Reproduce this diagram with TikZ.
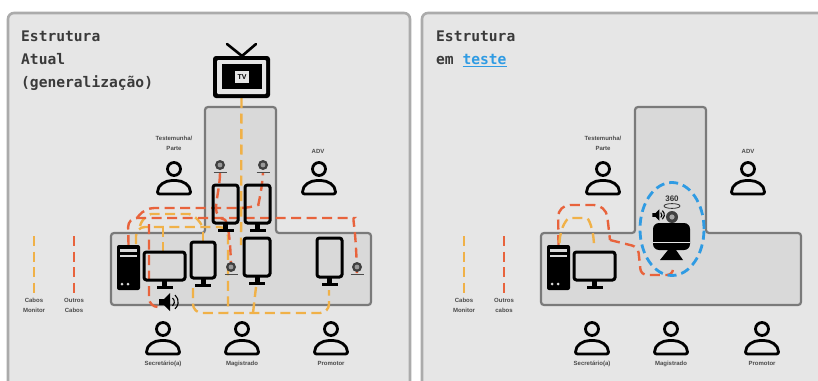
\documentclass[tikz,border=0pt]{standalone}
\usepackage{fontspec}
\usetikzlibrary{shapes.geometric}
\setmainfont{Liberation Sans}
\newfontfamily\titlefont{DejaVu Sans Mono}[Scale=1]
\definecolor{panelfill}{HTML}{E6E6E6}
\definecolor{panelline}{HTML}{ABABAB}
\definecolor{deskfill}{HTML}{D9D9D9}
\definecolor{deskline}{HTML}{7A7A7A}
\definecolor{cabley}{HTML}{F0B148}
\definecolor{cabler}{HTML}{E8633C}
\definecolor{ringblue}{HTML}{2F9BE3}
\definecolor{labeltext}{HTML}{4A4A4A}
\definecolor{titletext}{HTML}{3A3A3A}
\pgfdeclarelayer{under}
\pgfdeclarelayer{cables}
\pgfsetlayers{under,cables,main}
\tikzset{
  panel/.style={draw=panelline,fill=panelfill,line width=2.6pt,rounded corners=6pt},
  desk/.style={draw=deskline,fill=deskfill,line width=2.2pt,rounded corners=3pt},
  ycable/.style={draw=cabley,line width=2.4pt,dash pattern=on 10pt off 5.5pt,rounded corners=9pt},
  rcable/.style={draw=cabler,line width=2.4pt,dash pattern=on 10pt off 5.5pt,rounded corners=9pt},
  tiny label/.style={font=\bfseries\fontsize{6}{10.2}\selectfont,text=labeltext,align=center,inner sep=0pt,text height=5pt,text depth=1.5pt},
  title/.style={font=\titlefont\bfseries\fontsize{14.6}{23}\selectfont,text=titletext,align=left,anchor=north west,inner sep=0pt},
  pics/mon/.style 2 args={code={
    \draw[black,line width=3pt,rounded corners=2.5pt] (0,0) rectangle (#1,#2);
    \fill[black] ({#1/2-2.5},#2) rectangle ({#1/2+2.5},{#2+6});
    \fill[black] ({#1/2-8},{#2+6}) rectangle ({#1/2+8},{#2+9});
    \coordinate (-top) at ({#1/2},0);
    \coordinate (-bot) at ({#1/2},{#2+9});
  }},
  pics/person/.style={code={
    \draw[black,line width=2.8pt] (0,0) circle (6.5);
    \draw[black,line width=2.8pt,line join=round,rounded corners=2pt]
      (-16.5,25) .. controls (-16.5,16) and (-9,11.5) .. (0,11.5) .. controls (9,11.5) and (16.5,16) .. (16.5,25) -- cycle;
  }},
  pics/webcam/.style={code={
    \fill[black!75] (0,0) circle (5);
    \fill[black!40] (0,0) circle (2.4);
    \draw[black!70,line width=1pt] (-6.5,7.5) -- (6.5,7.5);
    \coordinate (-top) at (0,-5);
    \coordinate (-bot) at (0,8);
  }},
  pics/tower/.style={code={
    \fill[black,rounded corners=2pt] (0,0) rectangle (23,45);
    \fill[white!85!black] (3,3.5) rectangle (20,7);
    \fill[white!85!black] (3,10) rectangle (20,12);
    \fill[white!85!black] (5,39) circle (1.5);
    \fill[white!85!black] (11,39) circle (1.5);
    \coordinate (-top) at (11.5,0);
  }},
  pics/speaker/.style={code={
    \fill[black] (-9,-3) -- (-4,-3) -- (2,-9) -- (2,9) -- (-4,3) -- (-9,3) -- cycle;
    \draw[black,line width=1.1pt] (4.5,-4) arc[start angle=-50,end angle=50,radius=5.2];
    \draw[black,line width=1.1pt] (7,-7) arc[start angle=-50,end angle=50,radius=9];
    \coordinate (-west) at (-9,0);
  }},
}
\begin{document}
\begin{tikzpicture}[x=1pt,y=-1pt]
\useasboundingbox (0,0) rectangle (818,380);

\begin{pgfonlayer}{under}
\fill[white] (0,0) rectangle (818,380);
% panels
\draw[panel] (8,13) rectangle (410,400);
\draw[panel] (422,13) rectangle (840,400);
% desks
\draw[desk] (111,233) -- (205,233) -- (205,107) -- (276,107) -- (276,233) -- (371,233) -- (371,305) -- (111,305) -- cycle;
\draw[desk] (541,233) -- (635,233) -- (635,107) -- (706,107) -- (706,233) -- (801,233) -- (801,305) -- (541,305) -- cycle;
\end{pgfonlayer}

% titles
\node[title] (t1) at (21,31) {Estrutura\\Atual\\(generalização)};
\node[title] (t2) at (436,31) {Estrutura\\em {\color{ringblue}\underline{teste}}};

% TV
\fill[black,rounded corners=3pt] (213,56) rectangle (270,98);
\fill[panelfill,rounded corners=1pt] (217,60) rectangle (266,94);
\fill[black] (222,64) rectangle (262,89);
\node[fill=panelfill,inner sep=0pt,minimum width=14pt,minimum height=12pt,font=\bfseries\fontsize{7}{7}\selectfont] (tv) at (242,77) {TV};
\draw[black,line width=2.6pt,line cap=round] (227,44) -- (242,56) -- (256,44);
\coordinate (tvbot) at (241.5,98);

% left panel equipment
\pic (tower1) at (117,245) {tower};
\pic (mainmon) at (144,252) {mon={41}{28}};
\pic (m1) at (213,185) {mon={25}{38}};
\pic (m2) at (245,185) {mon={25}{38}};
\pic (m3) at (191,242) {mon={24}{36}};
\pic (m4) at (244,238) {mon={26}{38}};
\pic (m5) at (317,238) {mon={25}{39}};
\pic (cam1) at (220,165) {webcam};
\pic (cam2) at (263,165) {webcam};
\pic (cam3) at (231,267) {webcam};
\pic (cam4) at (357,267) {webcam};

% left panel cables
\begin{pgfonlayer}{cables}
\draw[ycable] (tvbot) -- (241,245);
\draw[ycable] (136,244) -- (136,227) -- (228,227) -- (228,312);
\draw[ycable] (163,252) -- (163,228);
\draw[ycable] (203,242) -- (203,228);
\draw[ycable] (140,226) .. controls (142,218) and (150,214) .. (160,214) -- (180,214) .. controls (192,214) and (200,220) .. (203,228);
\draw[ycable] (193,288) -- (193,313) -- (329,313) -- (329,290);
\draw[ycable] (256,287) -- (253,313);
\draw[rcable] (tower1-top) -- (128,218) -- (345,218) .. controls (352,218) and (356,226) .. (cam4-bot);
\draw[rcable] (137,218) -- (145,208) -- (250,208) .. controls (258,205) and (262,190) .. (cam2-bot);
\draw[rcable] (cam1-bot) .. controls (220,185) and (216,200) .. (216,218) .. controls (226,220) and (231,230) .. (cam3-bot);
\draw[rcable] (149,224) -- (149,307) -- (160,307);
\end{pgfonlayer}
\pic (spk1) at (168,302) {speaker};

% left panel people
\pic (p1) at (174,169) {person};
\pic (p2) at (319,169) {person};
\pic (p3) at (163,329) {person};
\pic (p4) at (242,329) {person};
\pic (p5) at (331,329) {person};
\node[tiny label] (l1) at (174,149) {Testemunha/\\Parte};
\node[tiny label] (l2) at (318,152) {ADV};
\node[tiny label] (l3) at (163,364) {Secretário(a)};
\node[tiny label] (l4) at (242,364) {Magistrado};
\node[tiny label] (l5) at (331,364) {Promotor};

% left legend
\coordinate (a1) at (34,236); \coordinate (a2) at (34,296);
\coordinate (b1) at (74,236); \coordinate (b2) at (74,296);
\draw[ycable] (a1) -- (a2);
\draw[rcable] (b1) -- (b2);
\node[tiny label] (l6) at (34,311) {Cabos\\Monitor};
\node[tiny label] (l7) at (74,311) {Outros\\Cabos};

% right panel equipment
\pic (tower2) at (547,245) {tower};
\pic (mainmon2) at (574,252) {mon={41}{28}};

% right panel cables
\begin{pgfonlayer}{cables}
\draw[rcable,rounded corners=12pt] (tower2-top) -- (558,205) -- (606,205) -- (610,240);
\draw[rcable,rounded corners=6pt] (610,240) -- (638,247) -- (641,275) -- (673,275) -- (673,265);
\draw[ycable] (tower2-top) ++(1,-2) .. controls (560,226) and (568,218) .. (578,218) .. controls (588,218) and (594,228) .. (594,248);
\end{pgfonlayer}

% capture unit
\fill[black,rounded corners=6pt] (653,223) rectangle (690,250);
\draw[panelfill,line width=0.8pt] (653,242) -- (690,242);
\fill[black] (668,250) -- (676,250) -- (683,260) -- (660,260) -- cycle;
\fill[black!75] (672,217) circle (6);
\fill[black!35] (672,217) circle (2.6);
\node[font=\bfseries\fontsize{8}{8}\selectfont,inner sep=0pt,text=black!80] (d360) at (672,199) {360};
\draw[black!80,line width=.8pt] (672,206) ellipse (8 and 2.4);
\pic[scale=.62] (spk2) at (658,215) {speaker};
\node[draw=ringblue,line width=2.8pt,dash pattern=on 9pt off 5pt,ellipse,minimum width=64pt,minimum height=93pt,inner sep=0pt] (ring) at (672,229) {};

% right panel people
\pic (q1) at (603,169) {person};
\pic (q2) at (748,169) {person};
\pic (q3) at (592,329) {person};
\pic (q4) at (671,329) {person};
\pic (q5) at (762,329) {person};
\node[tiny label] (r1) at (603,149) {Testemunha/\\Parte};
\node[tiny label] (r2) at (748,152) {ADV};
\node[tiny label] (r3) at (592,364) {Secretário(a)};
\node[tiny label] (r4) at (671,364) {Magistrado};
\node[tiny label] (r5) at (762,364) {Promotor};

% right legend
\coordinate (c1) at (464,236); \coordinate (c2) at (464,296);
\coordinate (e1) at (504,236); \coordinate (e2) at (504,296);
\draw[ycable] (c1) -- (c2);
\draw[rcable] (e1) -- (e2);
\node[tiny label] (l8) at (464,311) {Cabos\\Monitor};
\node[tiny label] (l9) at (504,311) {Outros\\cabos};
\end{tikzpicture}
\end{document}
